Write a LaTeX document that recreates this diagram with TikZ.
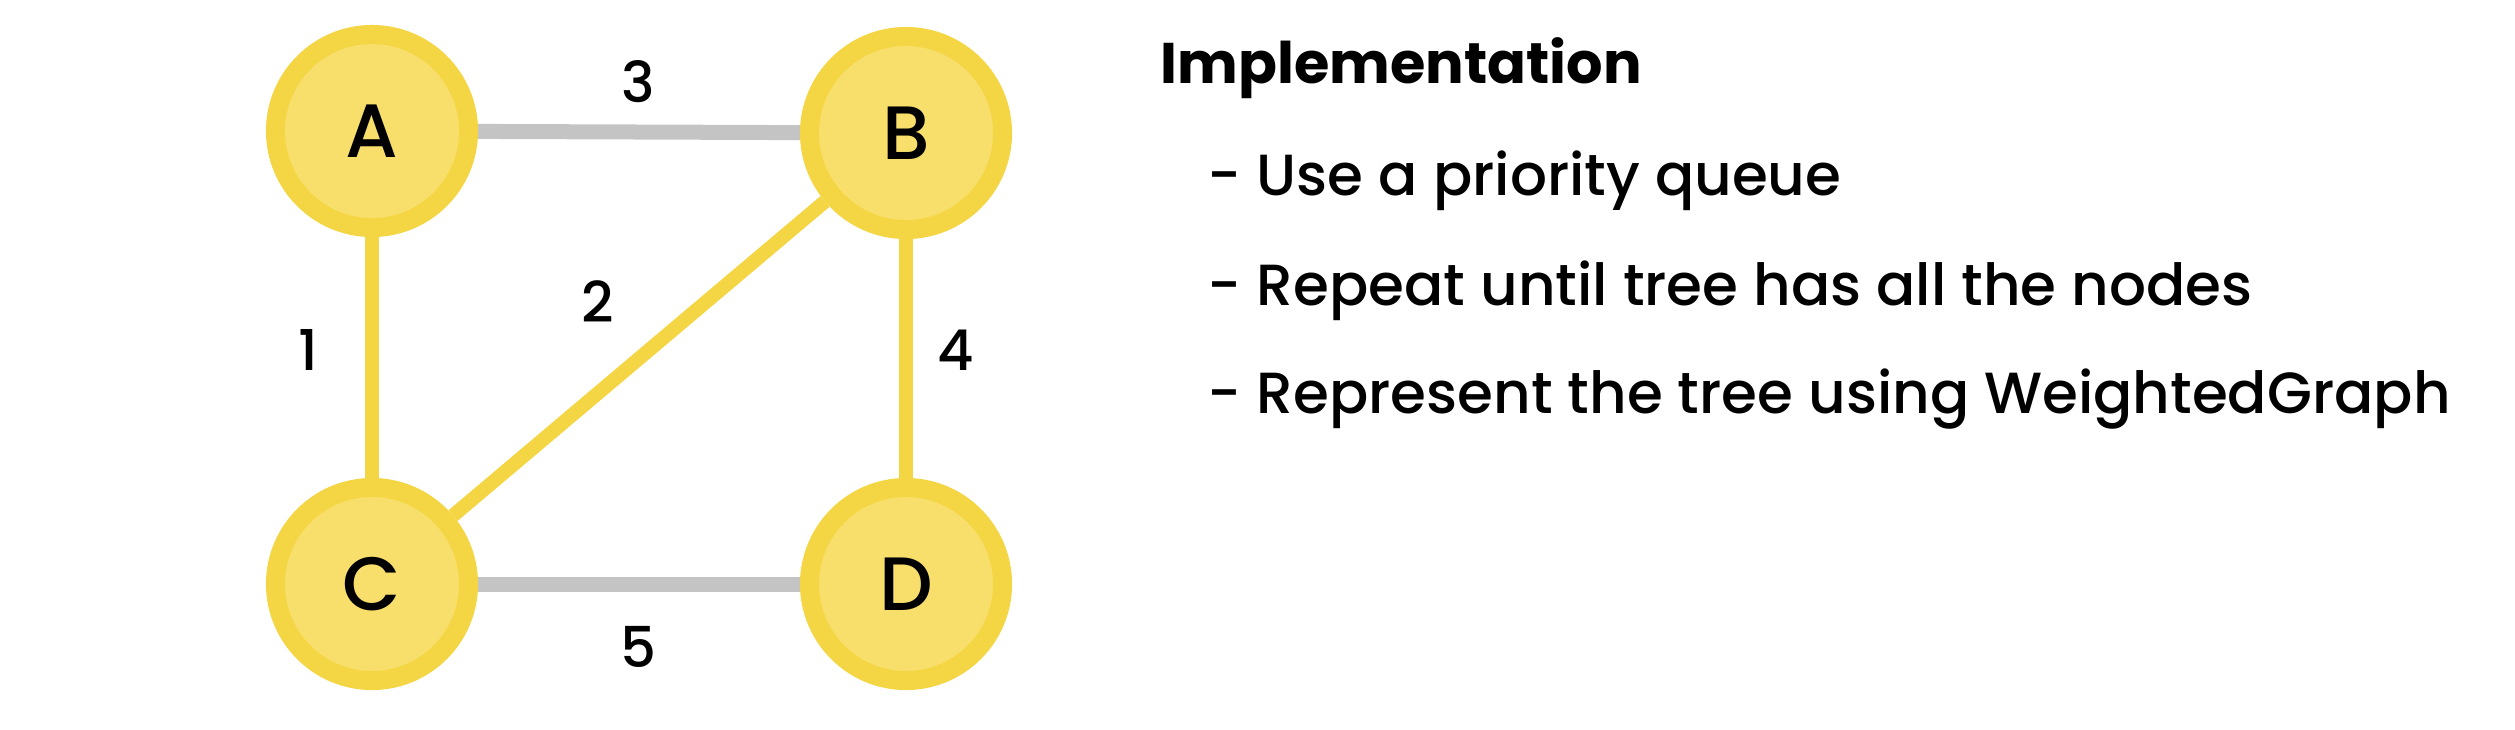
\documentclass[tikz,border=0pt]{standalone}
\usepackage{fontspec}
\setmainfont{Poppins}[UprightFont={* Medium}, BoldFont={* Bold}]
\usepackage{tikz}
\usetikzlibrary{positioning}

\definecolor{ringyellow}{HTML}{F4D644}
\definecolor{coreyellow}{HTML}{F8DF6C}
\definecolor{edgegray}{HTML}{C4C4C4}

\tikzset{
    vertex/.style={circle, draw=ringyellow, fill=coreyellow, line width=0.19cm,
        minimum size=1.93cm, inner sep=0pt, font=\fontsize{21.5pt}{24pt}\selectfont},
    treeedge/.style={draw=ringyellow, line width=0.14cm},
    otheredge/.style={draw=edgegray, line width=0.15cm},
    weight/.style={inner sep=0pt, font=\fontsize{16pt}{19pt}\selectfont},
    notes/.style={anchor=base west, inner sep=0pt, font=\fontsize{16.5pt}{19pt}\selectfont}
}

\begin{document}
\begin{tikzpicture}[x=0.01cm, y=-0.01cm]
            \useasboundingbox (0,0) rectangle (2515,729);

            % Graph nodes
            \foreach \name/\x/\y in {A/372/131, B/906/133, C/372/584, D/906/584} {
                \node[vertex] (\name) at (\x,\y) {\name};
            }

            % Edges
            \draw[otheredge] (A) -- (B);
            \draw[otheredge] (C) -- (D);
            \draw[treeedge] (A) -- (C);
            \draw[treeedge] (C) -- (B);
            \draw[treeedge] (B) -- (D);

            % Weights
            \node[weight] (w3) at (638,82) {3};
            \node[weight] (w2) at (598,302) {2};
            \node[weight] (w1) at (308,350) {1};
            \node[weight] (w4) at (956,350) {4};
            \node[weight] (w5) at (638,647) {5};

            % Notes
            \node[notes, font=\fontsize{16.3pt}{19pt}\selectfont\bfseries] (title) at (1160,83) {Implementation};
            \node[notes] (n1) at (1207,195) {- Use a priority queue};
            \node[notes] (n2) at (1207,305) {- Repeat until tree has all the nodes};
            \node[notes] (n3) at (1207,413) {- Represent the tree using WeightedGraph};
        \end{tikzpicture}
\end{document}
